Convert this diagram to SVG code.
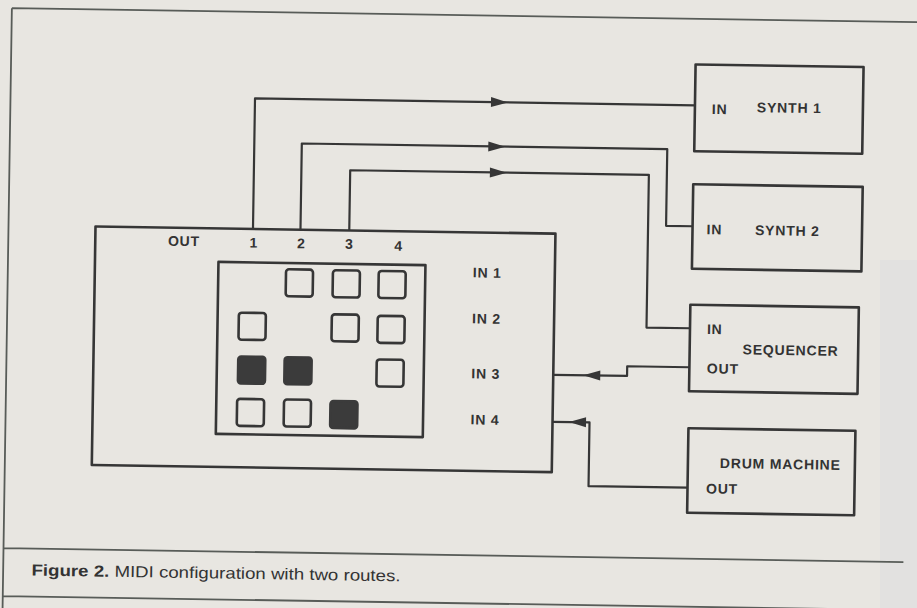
<svg xmlns="http://www.w3.org/2000/svg" xmlns:xlink="http://www.w3.org/1999/xlink" width="917" height="608" viewBox="0 0 917 608">
  <defs>
    <style>
      .frame { fill: none; stroke: #585c58; stroke-width: 1.8; }
      .box { fill: none; stroke: #363636; stroke-width: 2.6; stroke-linejoin: round; }
      .wire { fill: none; stroke: #363636; stroke-width: 2.2; stroke-linejoin: round; }
      .sw { fill: none; stroke: #363636; stroke-width: 2.6; }
      .on { fill: #3b3b3b; stroke: #3b3b3b; stroke-width: 2.6; }
      .lbl { font-family: "Liberation Sans", Arial, sans-serif; font-weight: bold; font-size: 14px; letter-spacing: 0.8px; fill: #333333; }
      .cap { font-family: "Liberation Sans", Arial, sans-serif; font-size: 16px; fill: #333333; }
      .arrow { fill: #363636; }
    </style>
    <path id="arrR" d="M0,0 L-17,-5 L-17,5 Z"/>
    <rect id="sq" x="-13.5" y="-13.5" width="27" height="27" rx="3"/>
  </defs>

  <rect x="0" y="0" width="917" height="608" fill="#e8e6e1"/>
  <rect x="880" y="260" width="37" height="348" fill="#dcdcdf" opacity="0.45"/>

  <g transform="rotate(0.888)">
    <g id="frame">
      <path class="frame" d="M12,8 H940 M12,8 V620 M12,548 H912 M12,596 H940"/>
    </g>

    <g id="connectors">
      <path class="wire" d="M256.5,225.5 V94.5 H696.5"/>
      <path class="wire" d="M304,225.5 V138.8 H669.5 V215.5 H696"/>
      <path class="wire" d="M352.8,225.5 V164.8 H651.5 V317.5 H695"/>
      <path class="wire" d="M695,356.5 H632.8 V366.2 H559"/>
      <path class="wire" d="M695,477 H596 V413.2 H559"/>
      <use xlink:href="#arrR" class="arrow" transform="translate(509.5,94.5)"/>
      <use xlink:href="#arrR" class="arrow" transform="translate(507.5,138.8)"/>
      <use xlink:href="#arrR" class="arrow" transform="translate(509.5,164.8)"/>
      <use xlink:href="#arrR" class="arrow" transform="translate(589,366.2) rotate(180)"/>
      <use xlink:href="#arrR" class="arrow" transform="translate(575.5,413.2) rotate(180)"/>
    </g>

    <g id="router">
      <rect class="box" x="99" y="225" width="460" height="238.5"/>
      <text class="lbl" x="171.7" y="243">OUT</text>
      <text class="lbl" x="257.5" y="243.5" text-anchor="middle">1</text>
      <text class="lbl" x="305" y="243.5" text-anchor="middle">2</text>
      <text class="lbl" x="353" y="243.5" text-anchor="middle">3</text>
      <text class="lbl" x="402.5" y="244.5" text-anchor="middle">4</text>
      <text class="lbl" x="477" y="270">IN 1</text>
      <text class="lbl" x="477" y="316">IN 2</text>
      <text class="lbl" x="477" y="371">IN 3</text>
      <text class="lbl" x="477" y="417">IN 4</text>
    </g>

    <g id="matrix">
      <rect class="box" x="222.5" y="258.5" width="207" height="172"/>
      <use xlink:href="#sq" class="sw" x="303.7" y="278.3"/>
      <use xlink:href="#sq" class="sw" x="350.6" y="278.5"/>
      <use xlink:href="#sq" class="sw" x="396.4" y="278.5"/>
      <use xlink:href="#sq" class="sw" x="257.2" y="322.4"/>
      <use xlink:href="#sq" class="sw" x="350.2" y="322.6"/>
      <use xlink:href="#sq" class="sw" x="396.1" y="323.4"/>
      <use xlink:href="#sq" class="on" x="257.3" y="366.2"/>
      <use xlink:href="#sq" class="on" x="303.7" y="366.2"/>
      <use xlink:href="#sq" class="sw" x="395.8" y="367"/>
      <use xlink:href="#sq" class="sw" x="256.8" y="408.6"/>
      <use xlink:href="#sq" class="sw" x="303.7" y="408.5"/>
      <use xlink:href="#sq" class="on" x="350.2" y="409.3"/>
    </g>

    <g id="synth1">
      <rect class="box" x="696.5" y="53.7" width="168" height="86.7"/>
      <text class="lbl" x="713.5" y="103">IN</text>
      <text class="lbl" x="758.5" y="100.5">SYNTH 1</text>
    </g>

    <g id="synth2">
      <rect class="box" x="696" y="173.5" width="169.5" height="84.5"/>
      <text class="lbl" x="710" y="223.3">IN</text>
      <text class="lbl" x="758.5" y="223.3">SYNTH 2</text>
    </g>

    <g id="sequencer">
      <rect class="box" x="695" y="294" width="168.5" height="86.5"/>
      <text class="lbl" x="712" y="323">IN</text>
      <text class="lbl" x="748" y="342.8">SEQUENCER</text>
      <text class="lbl" x="712.5" y="362.3">OUT</text>
    </g>

    <g id="drum">
      <rect class="box" x="695" y="417.5" width="167" height="84.5"/>
      <text class="lbl" x="727" y="456.8">DRUM MACHINE</text>
      <text class="lbl" x="713.5" y="482.4">OUT</text>
    </g>

    <g id="caption">
      <text class="cap" x="40.4" y="575" textLength="369" lengthAdjust="spacingAndGlyphs"><tspan font-weight="bold">Figure 2.</tspan> MIDI configuration with two routes.</text>
    </g>
  </g>
</svg>
